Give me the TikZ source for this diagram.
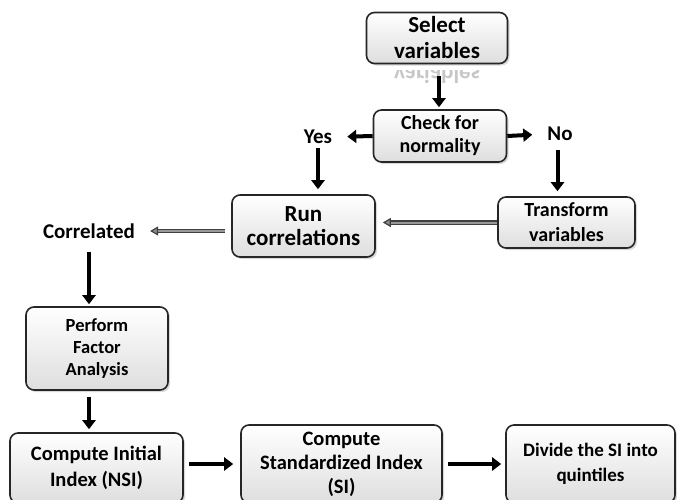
\documentclass[tikz,border=0pt]{standalone}
\usepackage{fontspec}
\setmainfont{Carlito}
\usetikzlibrary{arrows.meta,shadows}

\tikzset{
  box/.style={draw=black!85, line width=1.6pt, rounded corners=8pt,
    top color=white, bottom color=black!13, drop shadow={opacity=0.3, shadow xshift=2pt, shadow yshift=-2pt},
    align=center, inner sep=1pt},
  blk/.style={line width=4pt, -{Triangle[length=9pt,width=13pt]}},
  gry/.style={draw=black!75, double=black!40, double distance=2pt, line width=1.2pt,
    -{Triangle[length=8pt,width=9pt,fill=black!45]}},
  lbl/.style={inner sep=1pt}
}
\newcommand{\fs}[2]{\bfseries\fontsize{#1}{#2}\selectfont}

\begin{document}
\begin{tikzpicture}[x=1pt,y=1pt]
  \useasboundingbox (0,0) rectangle (677,-499);

  % top
  \node[box, minimum width=141, minimum height=51, font=\fs{23}{26}] (sel) at (437,-38) {Select\\variables};
  \begin{scope}[shift={(437,-67)}, yscale=-1]
    \clip (-70,3) rectangle (70,15);
    \node[transform shape, anchor=base, text=black!22, font=\fs{23}{26}] (refl) at (0,0) {variables};
  \end{scope}

  \node[box, minimum width=133, minimum height=52, font=\fs{20}{23}] (chk) at (440,-136) {Check for\\normality};
  \node[lbl, font=\fs{21}{24}] (yes) at (318,-137) {Yes};
  \node[lbl, font=\fs{21}{24}] (no) at (560,-134) {No};

  \node[box, minimum width=143, minimum height=62, font=\fs{23}{24}] (run) at (303.5,-226) {Run\\correlations};
  \node[box, minimum width=137, minimum height=51, font=\fs{20}{25}] (trf) at (566.5,-222.5) {Transform\\variables};
  \node[lbl, font=\fs{21}{24}] (corr) at (89,-231) {Correlated};

  \node[box, minimum width=142, minimum height=83, font=\fs{18.5}{22}] (pfa) at (97,-348.5) {Perform\\Factor\\Analysis};

  % bottom row
  \node[box, minimum width=173, minimum height=70, font=\fs{20.5}{26}] (cii) at (96.5,-468) {Compute Initial\\Index (NSI)};
  \node[box, minimum width=201, minimum height=78, font=\fs{20.5}{24}] (csi) at (341.5,-464) {Compute\\Standardized Index\\(SI)};
  \node[box, minimum width=169, minimum height=78, font=\fs{19}{25}] (div) at (590.5,-464) {Divide the SI into\\quintiles};

  \coordinate (s1) at (439,-76);

  \draw[blk] (s1) -- (s1 |- chk.north) [shorten >=2pt];
  \draw[blk, shorten >=14pt] (chk.west) -- (yes.east);
  \draw[blk, shorten >=14pt] (chk.east) -- (no.west);
  \draw[blk, shorten <=3pt, shorten >=5pt] (yes.south) -- (yes.south |- run.north);
  \draw[blk, shorten <=8pt, shorten >=5pt] (no.south -| trf.north) ++(-9,0) coordinate (n1) -- (n1 |- trf.north);
  \draw[gry, shorten >=7pt] (trf.west) -- (run.east |- trf.west);
  \draw[gry, shorten <=6pt, shorten >=14pt] (run.west |- corr.east) -- (corr.east);
  \draw[blk, shorten <=12pt, shorten >=2pt] (corr.south) -- (corr.south |- pfa.north);
  \draw[blk, shorten <=6pt, shorten >=3pt] (corr.south |- pfa.south) -- (corr.south |- cii.north);
  \draw[blk, shorten <=5pt, shorten >=7pt] (cii.east |- csi.west) -- (csi.west);
  \draw[blk, shorten <=5pt, shorten >=4pt] (csi.east) -- (div.west);
\end{tikzpicture}
\end{document}
